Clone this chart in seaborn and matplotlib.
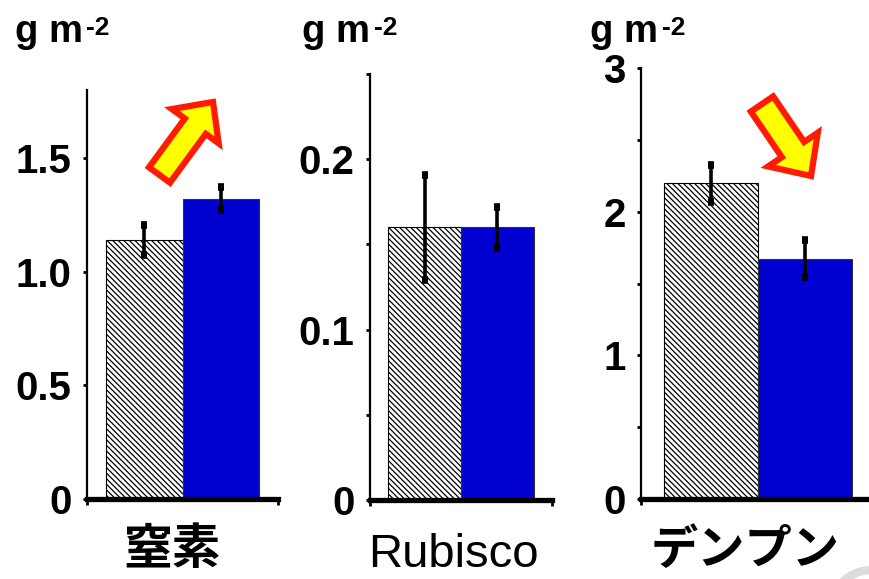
import numpy as np
import pandas as pd
import seaborn as sns
import matplotlib.pyplot as plt
from matplotlib.patches import FancyArrow, Arc

# values
groups = ["control", "treated"]
nitrogen = [1.14, 1.322]
nitrogen_err = [0.064, 0.05]
rubisco = [0.160, 0.160]
rubisco_err = [0.031, 0.012]
starch = [2.197, 1.674]
starch_err = [0.13, 0.13]

panel_names = ["窒素", "Rubisco", "デンプン"]
ylims = [1.8, 0.25, 3.0]
major_ticks = [[0, 0.5, 1.0, 1.5], [0, 0.1, 0.2], [0, 1, 2, 3]]
major_labels = [["0", "0.5", "1.0", "1.5"], ["0", "0.1", "0.2"], ["0", "1", "2", "3"]]
minor_ticks = [[], [0.05, 0.15, 0.25], [0.5, 1.5, 2.5]]

sns.set_style("white")
plt.rcParams["font.family"] = ["Liberation Sans", "Noto Sans CJK JP", "DejaVu Sans"]
plt.rcParams["hatch.linewidth"] = 0.9
for k in ["text.color", "axes.labelcolor", "xtick.color", "ytick.color"]:
    plt.rcParams[k] = "black"

W, H = 869, 579
fig = plt.figure(figsize=(W / 100, H / 100), dpi=100)


def px_box(left, right, bottom, top):
    return [left / W, 1 - bottom / H, (right - left) / W, (bottom - top) / H]


boxes = [px_box(87, 278, 499, 90), px_box(370, 552, 500, 74), px_box(641, 875, 499, 68)]
data = [(nitrogen, nitrogen_err), (rubisco, rubisco_err), (starch, starch_err)]

for i, (vals, errs) in enumerate(data):
    ax = fig.add_axes(boxes[i])
    df = pd.DataFrame({"group": groups, "value": vals})
    sns.barplot(data=df, x="group", y="value", hue="group", palette=["white", "#0000d0"],
                saturation=1, width=1.0, legend=False, ax=ax)
    bars = ax.patches
    bars[0].set_hatch("\\" * 6)
    bars[0].set_edgecolor("black")
    bars[0].set_linewidth(0.8)
    bars[1].set_edgecolor("#333333")
    bars[1].set_linewidth(0.8)
    centers = [b.get_x() + b.get_width() / 2 for b in bars[:2]]
    ax.errorbar(centers, vals, yerr=errs, fmt="none", ecolor="black",
                elinewidth=2.6, capsize=2.4, capthick=5.5, zorder=5)

    ax.set_xlim(-0.75, 1.75)
    ax.set_ylim(0, ylims[i])
    ax.set_xticks([-0.75, 1.75])
    ax.set_xticklabels(["", ""])
    ax.set_yticks(major_ticks[i])
    ax.set_yticklabels(major_labels[i], fontweight="bold", fontsize=29)
    ax.set_yticks(minor_ticks[i], minor=True)
    ax.tick_params(axis="y", which="both", length=3, width=2, direction="out",
                   pad=8, left=True)
    ax.tick_params(axis="x", length=4, width=2, direction="out", bottom=True)
    ax.set_xlabel("")
    ax.set_ylabel("")
    for s in ["top", "right"]:
        ax.spines[s].set_visible(False)
    ax.spines["left"].set_linewidth(1.6)
    ax.spines["bottom"].set_linewidth(3.8)
    ax.spines["left"].set_color("black")
    ax.spines["bottom"].set_color("black")
    ax.patch.set_alpha(0)

# unit labels
for gx, sx in [(15, 86), (302, 374), (590, 662)]:
    fig.text(gx / W, 1 - 42 / H, "g m", fontsize=27.5, fontweight="bold", va="baseline")
    fig.text(sx / W, 1 - 35 / H, "-2", fontsize=19, fontweight="bold", va="baseline")

# category labels
cjk = ["Noto Sans CJK JP", "DejaVu Sans"]
fig.text(172 / W, 1 - 549 / H, panel_names[0], fontsize=35, ha="center", va="center",
         family=cjk, fontweight="bold")
fig.text(453 / W, 1 - 567 / H, panel_names[1], fontsize=34, ha="center", va="baseline")
fig.text(745 / W, 1 - 550 / H, panel_names[2], fontsize=34, ha="center", va="center",
         family=cjk, fontweight="bold")

# overlay for the arrows
ov = fig.add_axes([0, 0, 1, 1], zorder=10)
ov.set_xlim(0, W)
ov.set_ylim(H, 0)
ov.axis("off")
ov.patch.set_alpha(0)
ov.add_patch(FancyArrow(159.5, 175, 53.5, -73, width=26, head_width=58, head_length=30,
                        length_includes_head=True, fc="#ffff00", ec="#ff1a00", lw=4.5))
ov.add_patch(FancyArrow(762, 104, 49, 72, width=27, head_width=60, head_length=32,
                        length_includes_head=True, fc="#ffff00", ec="#ff1a00", lw=4.5))
ov.add_patch(Arc((872, 612), 84, 84, theta1=200, theta2=300, color="#dcdcdc", lw=6))

fig.savefig("out.png", dpi=100)
